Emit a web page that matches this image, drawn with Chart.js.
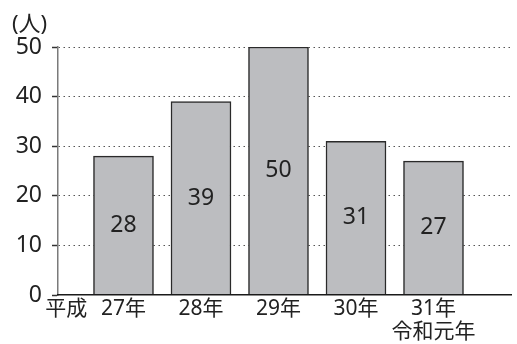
<!DOCTYPE html>
<html><head><meta charset="utf-8">
<script src="https://cdn.jsdelivr.net/npm/chart.js@4"></script>
<style>html,body{margin:0;padding:0;background:#fff}canvas{display:block}</style>
</head><body>
<canvas id="c" width="517" height="344"></canvas>
<script>
const categories = [["27年"], ["28年"], ["29年"], ["30年"], ["31年", "令和元年"]];
const eraLabel = "平成";
const values = [28, 39, 50, 31, 27];
const yTicks = [0, 10, 20, 30, 40, 50];
const unitLabel = "(人)";

const FONT = "'Noto Sans', 'Noto Sans CJK JP', sans-serif";
const ERA_POS = -0.74;

const extras = {
  id: 'extras',
  afterDatasetsDraw(chart) {
    const ctx = chart.ctx;
    const meta = chart.getDatasetMeta(0);
    ctx.save();
    ctx.fillStyle = '#222';
    ctx.font = '23px ' + FONT;
    ctx.textAlign = 'center';
    ctx.textBaseline = 'middle';
    meta.data.forEach((bar, i) => {
      const p = bar.getProps(['x', 'y', 'base'], true);
      ctx.fillText(String(values[i]), p.x, (p.y + p.base) / 2);
    });
    ctx.textAlign = 'left';
    ctx.font = '22px ' + FONT;
    ctx.fillText(unitLabel, 12, 25);
    ctx.restore();
  }
};

new Chart(document.getElementById('c'), {
  type: 'bar',
  data: {
    datasets: [{
      data: values.map((v, i) => ({x: i, y: v})),
      backgroundColor: '#bcbdc0',
      borderColor: '#2a2a2a',
      borderWidth: 1.5,
      borderSkipped: 'bottom',
      barThickness: 60
    }]
  },
  options: {
    responsive: false,
    animation: false,
    layout: {padding: {top: 47, right: 6, left: 0, bottom: 0}},
    plugins: {legend: {display: false}, tooltip: {enabled: false}},
    scales: {
      x: {
        type: 'linear',
        offset: false,
        min: -0.845,
        max: 5.0,
        afterBuildTicks(scale) {
          scale.ticks = [{value: ERA_POS}].concat(categories.map((c, i) => ({value: i})));
        },
        afterFit(scale) { scale.height = 49; },
        ticks: {
          autoSkip: false,
          maxRotation: 0,
          padding: 3,
          color: '#222',
          font: {size: 21, family: FONT, lineHeight: 1.08},
          callback(v) {
            if (Math.abs(v - ERA_POS) < 1e-6) return eraLabel;
            const i = Math.round(v);
            return categories[i] || '';
          }
        },
        grid: {display: false, drawTicks: false},
        border: {display: true, color: '#1a1a1a', width: 1.5, z: 2}
      },
      y: {
        min: 0,
        max: 50,
        afterBuildTicks(scale) { scale.ticks = yTicks.map(v => ({value: v})); },
        afterFit(scale) { scale.width = 58; },
        ticks: {
          color: '#222',
          padding: 10,
          font: {size: 23, family: FONT}
        },
        grid: {
          color: (c) => (c.tick && c.tick.value === 0) ? 'rgba(0,0,0,0)' : '#555',
          lineWidth: 1,
          tickLength: 6,
          tickColor: '#333',
          tickWidth: 1.5,
          tickBorderDash: [],
          drawOnChartArea: true
        },
        border: {display: true, color: '#7a7a7a', width: 1.5, dash: [1.5, 3.5]}
      }
    }
  },
  plugins: [extras]
});
</script>
</body></html>
